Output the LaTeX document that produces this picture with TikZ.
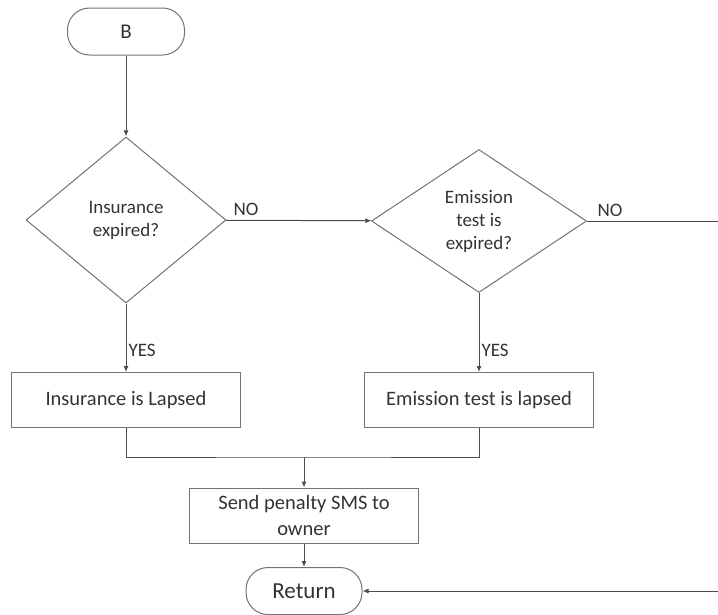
\documentclass[tikz,border=0pt]{standalone}
\usepackage{fontspec}
\setmainfont{Carlito}
\usetikzlibrary{shapes.geometric,arrows.meta}
\begin{document}
\begin{tikzpicture}[x=1pt,y=-1pt,
  every node/.style={text=black!80},
  line/.style={draw=black!70, line width=1pt},
  arr/.style={line, -{Latex[length=6pt,width=5pt]}},
  term/.style={draw=black!55, line width=1pt, rounded corners=22pt, minimum width=117pt, minimum height=47pt, font=\fontsize{21}{25}\selectfont, inner sep=0pt},
  dec/.style={diamond, draw=black!55, line width=1pt, inner sep=0pt, align=center, font=\fontsize{19}{23}\selectfont},
  proc/.style={draw=black!55, line width=1pt, minimum width=229pt, minimum height=55pt, align=center, inner sep=0pt, font=\fontsize{20.5}{26}\selectfont},
  lab/.style={font=\fontsize{19}{23}\selectfont, inner sep=0pt}]
\useasboundingbox (0,0) rectangle (718,614);
\node[term] (B) at (126,31.5) {B};
\node[dec, minimum width=200pt, minimum height=166pt] (d1) at (126,220) {Insurance\\expired?};
\node[dec, minimum width=215pt, minimum height=143pt] (d2) at (479,221) {Emission\\test is\\expired?};
\node[proc] (p1) at (126,400) {Insurance is Lapsed};
\node[proc] (p2) at (479,400) {Emission test is lapsed};
\node[proc] (p3) at (304,515.5) {Send penalty SMS to\\owner};
\node[term, minimum width=116pt, font=\fontsize{23}{27}\selectfont] (ret) at (304,591) {Return};
\coordinate (j) at (304,457);
\coordinate (rc) at (724,221);
\draw[arr] (B) -- (d1);
\draw[arr] (d1) -- node[lab, pos=0, anchor=south west, xshift=7pt, yshift=4pt] {NO} (d2);
\draw[arr] (d1) -- node[lab, pos=0.69, anchor=west, xshift=2pt] {YES} (p1);
\draw[arr] (d2) -- node[lab, pos=0.73, anchor=west, xshift=2pt] {YES} (p2);
\draw[line] (d2.east) -- node[lab, pos=0, anchor=south west, xshift=10pt, yshift=4pt] {NO} (rc);
\draw[arr] (rc) |- (ret.east);
\draw[line] (p1.south) |- (j) -| (p2.south);
\draw[arr] (j) -- (p3);
\draw[arr] (p3) -- (ret);
\end{tikzpicture}
\end{document}
